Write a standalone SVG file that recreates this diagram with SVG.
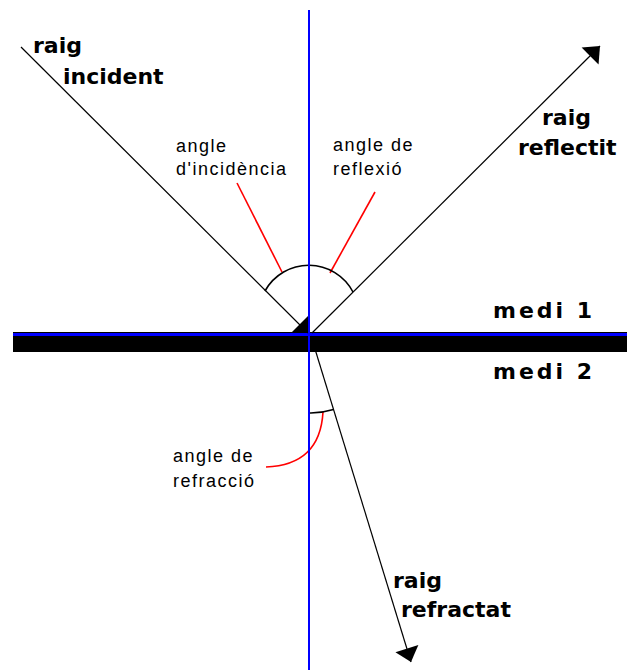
<svg xmlns="http://www.w3.org/2000/svg" width="627" height="670" viewBox="0 0 627 670">
<style>
.ray{stroke:#000;stroke-width:1.2;fill:none}
.arc{stroke:#000;stroke-width:1.6;fill:none}
.pointer{stroke:#f00;stroke-width:1.6;fill:none}
.normal{stroke:#00f;stroke-width:2;fill:none}
.bold{font-family:"DejaVu Sans",Verdana,sans-serif;font-weight:bold;font-size:22px;fill:#000}
.medi{font-family:"DejaVu Sans",Verdana,sans-serif;font-weight:bold;font-size:22px;letter-spacing:3px;fill:#000}
.small{font-family:"Liberation Sans",Arial,sans-serif;font-size:18px;letter-spacing:1.5px;fill:#000}
</style>
<defs>
<marker id="head" markerUnits="userSpaceOnUse" viewBox="-15 -13 16 26" refX="0" refY="0" markerWidth="16" markerHeight="26" orient="auto">
<path d="M0,0 L-14,-12 L-14,12 z" fill="#000"/>
</marker>
<marker id="headsmall" markerUnits="userSpaceOnUse" viewBox="-13 -13 14 26" refX="0" refY="0" markerWidth="14" markerHeight="26" orient="auto">
<path d="M0,0 L-12,-12 L-12,12 z" fill="#000"/>
</marker>
</defs>
<rect width="627" height="670" fill="#fff"/>
<g id="interface">
<rect x="13" y="332" width="614" height="20" fill="#000"/>
<line x1="13" y1="334.5" x2="627" y2="334.5" stroke="#00f" stroke-width="3"/>
</g>
<g id="connectors">
<line id="incident-ray" class="ray" x1="21" y1="47" x2="308" y2="333" marker-end="url(#headsmall)"/>
<line id="reflected-ray" class="ray" x1="312" y1="333" x2="600" y2="46" marker-end="url(#head)"/>
<line id="refracted-ray" class="ray" x1="311" y1="336" x2="411" y2="662" marker-end="url(#head)"/>
<line class="pointer" x1="237" y1="183" x2="282" y2="272"/>
<line class="pointer" x1="375" y1="192" x2="330" y2="273"/>
<path class="pointer" d="M266,467 Q320,465 323,412"/>
</g>
<g id="angle-arcs">
<path class="arc" d="M265,291 A50,50 0 0 1 353,292"/>
<path class="arc" d="M309,413 A77,77 0 0 0 333.5,409.6"/>
</g>
<g id="normal">
<line class="normal" x1="309" y1="10" x2="309" y2="670"/>
</g>
<g id="label-incident">
<text class="bold" x="33" y="53">raig</text>
<text class="bold" x="63" y="84">incident</text>
</g>
<g id="label-reflected">
<text class="bold" x="542" y="125">raig</text>
<text class="bold" x="518" y="155">reflectit</text>
</g>
<g id="label-refracted">
<text class="bold" x="393" y="588">raig</text>
<text class="bold" x="401" y="617">refractat</text>
</g>
<g id="label-medi1"><text class="medi" x="493" y="318">medi 1</text></g>
<g id="label-medi2"><text class="medi" x="493" y="379">medi 2</text></g>
<g id="label-angle-incidence">
<text class="small" x="176" y="152">angle</text>
<text class="small" x="176" y="175">d'incidència</text>
</g>
<g id="label-angle-reflection">
<text class="small" x="333" y="151">angle de</text>
<text class="small" x="333" y="175">reflexió</text>
</g>
<g id="label-angle-refraction">
<text class="small" x="173" y="462">angle de</text>
<text class="small" x="173" y="487">refracció</text>
</g>
</svg>
